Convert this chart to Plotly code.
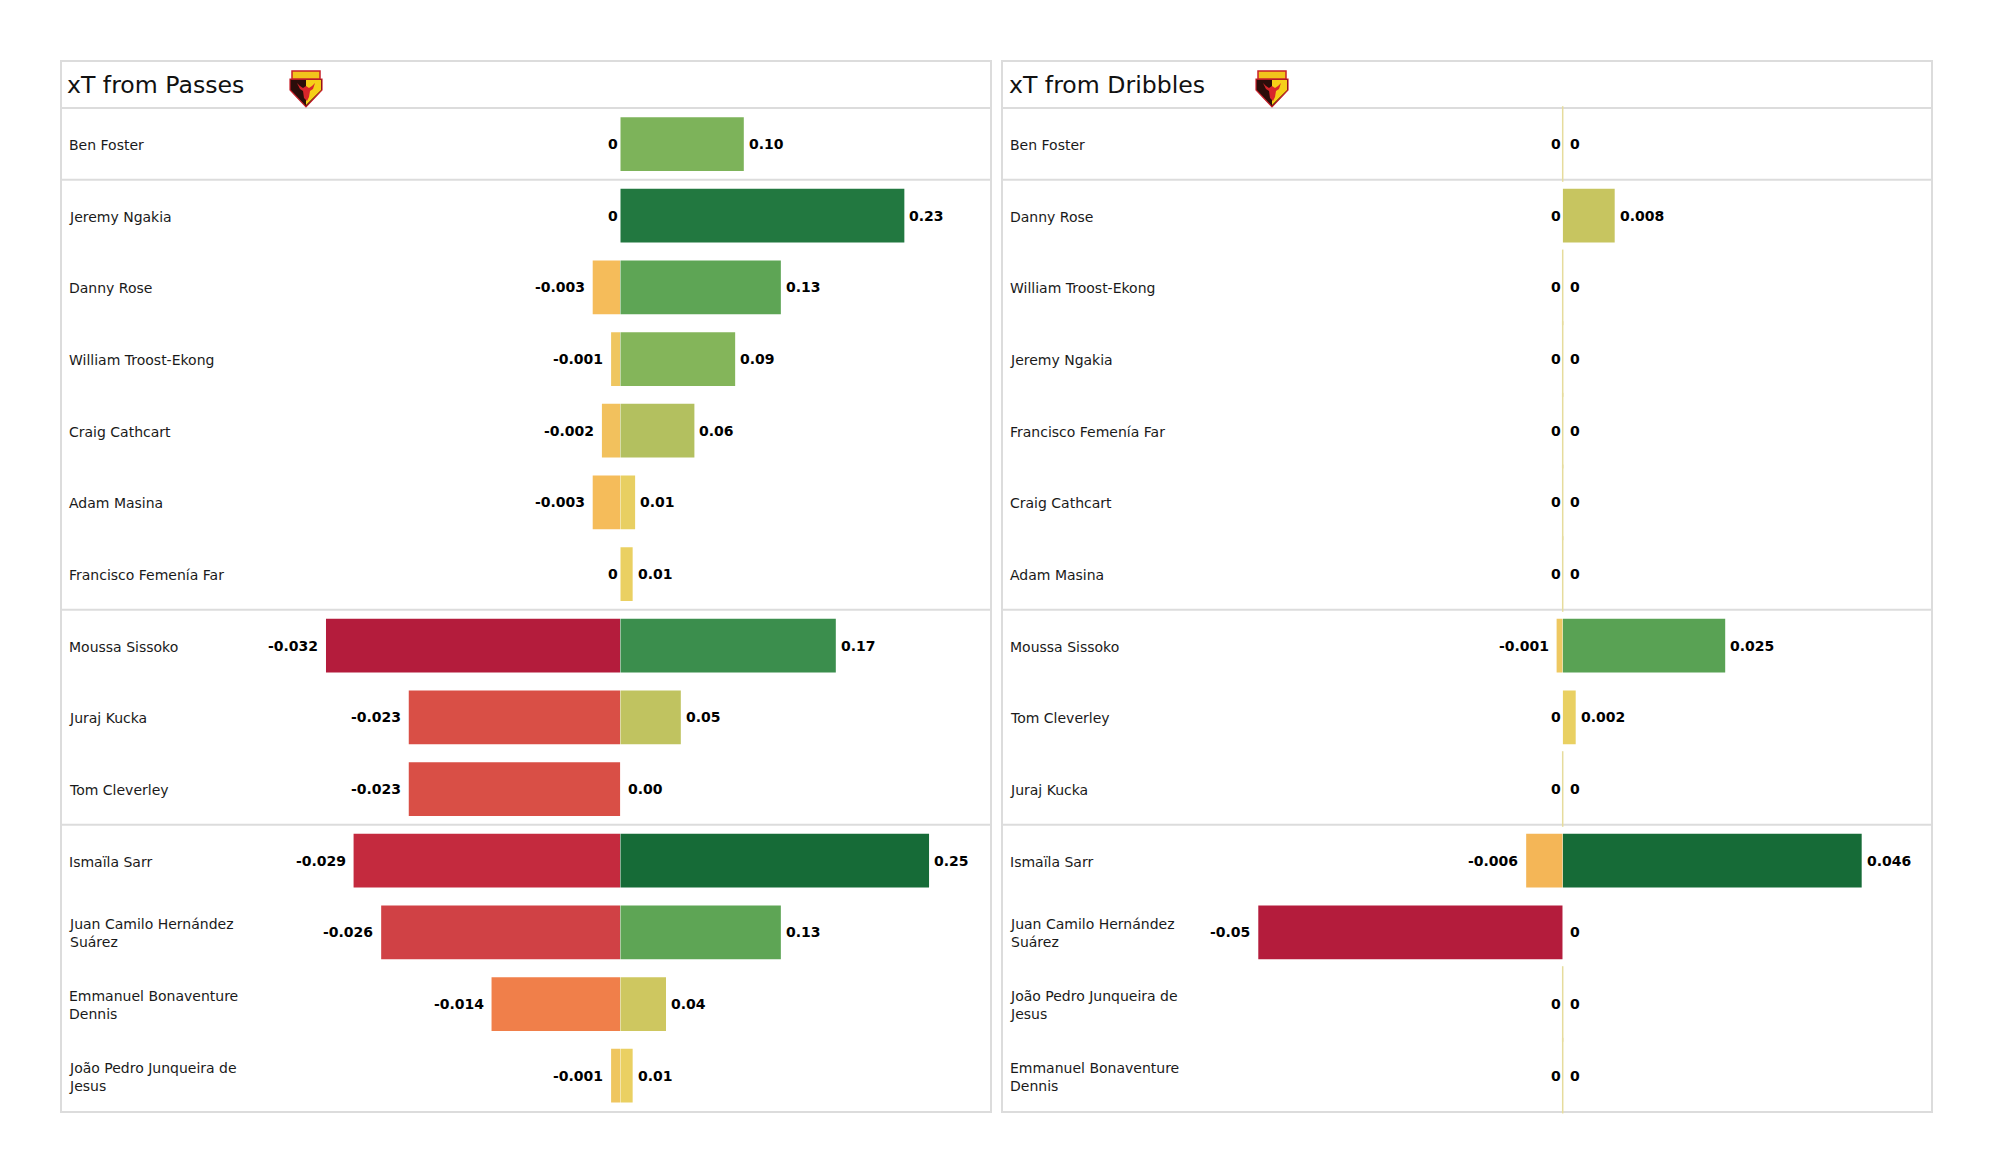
import plotly.graph_objects as go

W, H = 2000, 1175

# ---------------- data ----------------
pass_players = ["Ben Foster", "Jeremy Ngakia", "Danny Rose", "William Troost-Ekong",
                "Craig Cathcart", "Adam Masina", "Francisco Femenía Far", "Moussa Sissoko",
                "Juraj Kucka", "Tom Cleverley", "Ismaïla Sarr",
                "Juan Camilo Hernández<br>Suárez", "Emmanuel Bonaventure<br>Dennis",
                "João Pedro Junqueira de<br>Jesus"]
pass_neg = [0, 0, -0.003, -0.001, -0.002, -0.003, 0, -0.032, -0.023, -0.023, -0.029, -0.026, -0.014, -0.001]
pass_pos = [0.10, 0.23, 0.13, 0.093, 0.06, 0.012, 0.01, 0.1745, 0.049, 0.0, 0.25, 0.13, 0.037, 0.01]

drib_players = ["Ben Foster", "Danny Rose", "William Troost-Ekong", "Jeremy Ngakia",
                "Francisco Femenía Far", "Craig Cathcart", "Adam Masina", "Moussa Sissoko",
                "Tom Cleverley", "Juraj Kucka", "Ismaïla Sarr",
                "Juan Camilo Hernández<br>Suárez", "João Pedro Junqueira de<br>Jesus",
                "Emmanuel Bonaventure<br>Dennis"]
drib_neg = [0, 0, 0, 0, 0, 0, 0, -0.001, 0, 0, -0.006, -0.05, 0, 0]
drib_pos = [0, 0.008, 0, 0, 0, 0, 0, 0.025, 0.002, 0, 0.046, 0, 0, 0]

group_breaks = [0.5, 6.5, 9.5]
titles = ["xT from Passes", "xT from Dribbles"]

# ---------------- styles ----------------
pos_cs = [[0.0, "#f1d765"], [0.04, "#ead062"], [0.17, "#c8c560"], [0.24, "#b3c05f"],
          [0.37, "#84b55a"], [0.40, "#7db35a"], [0.52, "#5ea555"], [0.69, "#3c8f4d"],
          [0.92, "#227840"], [1.0, "#166b37"]]
neg_cs = [[0.0, "#b41c3c"], [0.094, "#c42a3e"], [0.19, "#d04245"], [0.28, "#d94f46"],
          [0.56, "#f07f4a"], [0.88, "#f4b657"], [0.91, "#f5bd5a"], [0.97, "#efc660"],
          [1.0, "#eccb62"]]
FONT = "DejaVu Sans"
BORDER = "#dcdcdc"


def px(x):
    return x / W


def py(y):
    return 1 - y / H


def fmt_general(v):
    return "0" if v == 0 else f"{round(v, 3):g}"


def fmt_2(v):
    return f"{v:.2f}"


fig = go.Figure()

panels = [
    dict(players=pass_players, neg=pass_neg, pos=pass_pos, xn="x", xp="x2", title=titles[0],
         pos_fmt=fmt_2, neg_fmt=fmt_general, left=61, right=991, title_x=65, logo_x=306),
    dict(players=drib_players, neg=drib_neg, pos=drib_pos, xn="x3", xp="x4", title=titles[1],
         pos_fmt=fmt_general, neg_fmt=fmt_general, left=1002, right=1932, title_x=1007, logo_x=1272),
]

annotations = []
shapes = []


def path(pts):
    return "M " + " L ".join(f"{px(a):.5f},{py(b):.5f}" for a, b in pts) + " Z"


for p in panels:
    idx = list(range(len(p["players"])))
    neg, pos = p["neg"], p["pos"]
    fig.add_trace(go.Bar(
        x=neg, y=idx, orientation="h", xaxis=p["xn"], yaxis="y", width=0.75,
        marker=dict(color=neg, colorscale=neg_cs, cmin=min(neg), cmax=0, line=dict(width=0)),
        hoverinfo="x+y", showlegend=False))
    fig.add_trace(go.Bar(
        x=pos, y=idx, orientation="h", xaxis=p["xp"], yaxis="y", width=0.75,
        marker=dict(color=pos, colorscale=pos_cs, cmin=0, cmax=max(pos), line=dict(width=0)),
        hoverinfo="x+y", showlegend=False))
    # thin zero markers where both values are zero
    zi = [i for i in idx if neg[i] == 0 and pos[i] == 0]
    if zi:
        fig.add_trace(go.Scatter(
            x=[0] * len(zi), y=zi, mode="markers", xaxis=p["xp"], yaxis="y",
            cliponaxis=False, hoverinfo="skip", showlegend=False,
            marker=dict(symbol="line-ns", size=54, color="#e6dc9c",
                        line=dict(width=1.5, color="#e6dc9c"))))
    # value labels and player names
    for i in idx:
        v = neg[i]
        annotations.append(dict(
            x=v, y=i, xref=p["xn"], yref="y", xanchor="right", yanchor="middle",
            xshift=(0 if v == 0 else -6), showarrow=False,
            text="<b>" + p["neg_fmt"](v) + "</b>",
            font=dict(family=FONT, size=14, color="#000000")))
        v = pos[i]
        annotations.append(dict(
            x=v, y=i, xref=p["xp"], yref="y", xanchor="left", yanchor="middle",
            xshift=(5.5 if v == 0 else 3), showarrow=False,
            text="<b>" + p["pos_fmt"](v) + "</b>",
            font=dict(family=FONT, size=14, color="#000000")))
        annotations.append(dict(
            x=px(p["left"] + 6), y=i, xref="paper", yref="y", xanchor="left", yanchor="middle",
            yshift=-1, showarrow=False, align="left", text=p["players"][i],
            font=dict(family=FONT, size=14, color="#1a1a1a")))
    # title
    annotations.append(dict(
        x=px(p["title_x"]), y=py(84.5), xref="paper", yref="paper", xanchor="left",
        yanchor="middle", showarrow=False, text=p["title"],
        font=dict(family=FONT, size=23.6, color="#111111")))
    # panel frame
    shapes.append(dict(type="rect", xref="paper", yref="paper",
                       x0=px(p["left"]), x1=px(p["right"]), y0=py(1112), y1=py(61),
                       line=dict(color=BORDER, width=2), fillcolor="rgba(0,0,0,0)", layer="below"))
    shapes.append(dict(type="line", xref="paper", yref="paper",
                       x0=px(p["left"]), x1=px(p["right"]), y0=py(108), y1=py(108),
                       line=dict(color=BORDER, width=2), layer="below"))
    for b in group_breaks:
        shapes.append(dict(type="line", xref="paper", yref="y",
                           x0=px(p["left"]), x1=px(p["right"]), y0=b, y1=b,
                           line=dict(color=BORDER, width=2), layer="below"))
    # club badge (decorative)
    cx, top = p["logo_x"], 70
    shapes.append(dict(type="path", xref="paper", yref="paper",
                       path=path([(cx - 16, top + 9), (cx + 16, top + 9), (cx + 16, top + 20),
                                  (cx, top + 37), (cx - 16, top + 20)]),
                       fillcolor="#2b0d0a", line=dict(color="#c8202a", width=1.2)))
    shapes.append(dict(type="path", xref="paper", yref="paper",
                       path=path([(cx, top + 10), (cx + 15, top + 10), (cx + 15, top + 20),
                                  (cx, top + 35)]),
                       fillcolor="#f6cf18", line=dict(width=0)))
    shapes.append(dict(type="path", xref="paper", yref="paper",
                       path=path([(cx - 9, top + 13), (cx - 6, top + 19), (cx - 3, top + 21),
                                  (cx - 2, top + 28), (cx + 1, top + 31), (cx + 3, top + 27),
                                  (cx + 4, top + 21), (cx + 7, top + 19), (cx + 9, top + 13),
                                  (cx + 6, top + 16), (cx + 3, top + 18), (cx, top + 16),
                                  (cx - 3, top + 18), (cx - 6, top + 16)]),
                       fillcolor="#d8262b", line=dict(width=0)))
    shapes.append(dict(type="rect", xref="paper", yref="paper",
                       x0=px(cx - 14), x1=px(cx + 14), y0=py(top + 9), y1=py(top + 1),
                       fillcolor="#f2c41c", line=dict(color="#c8202a", width=1.5)))

ydom = [py(1111.5), py(108.2)]
ax_common = dict(visible=False, showgrid=False, zeroline=False, fixedrange=True)
fig.update_layout(
    width=W, height=H, margin=dict(l=0, r=0, t=0, b=0),
    paper_bgcolor="white", plot_bgcolor="rgba(0,0,0,0)",
    barmode="overlay", showlegend=False,
    xaxis=dict(domain=[px(280), px(620.3)], range=[-0.0370, 0], anchor="y", **ax_common),
    xaxis2=dict(domain=[px(620.3), px(985)], range=[0, 0.2953], anchor="y", **ax_common),
    xaxis3=dict(domain=[px(1222), px(1562.7)], range=[-0.05596, 0], anchor="y", **ax_common),
    xaxis4=dict(domain=[px(1562.7), px(1925)], range=[0, 0.05574], anchor="y", **ax_common),
    yaxis=dict(domain=ydom, range=[13.5, -0.5], anchor="x", **ax_common),
    annotations=annotations, shapes=shapes,
)

fig.write_html("out.html", config={"displayModeBar": False},
               post_script="document.body.style.margin='0';")
